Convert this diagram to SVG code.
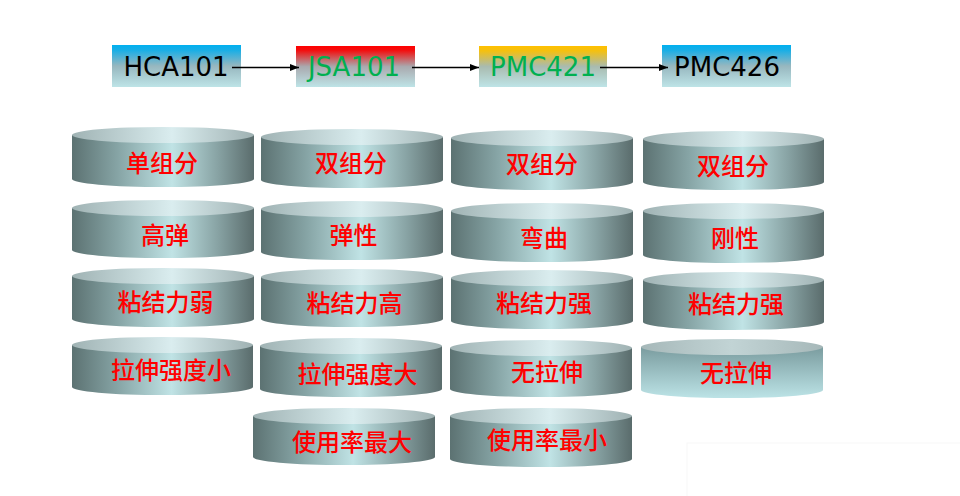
<svg xmlns="http://www.w3.org/2000/svg" width="960" height="496" viewBox="0 0 960 496">
<style>
.lbl{font-family:"DejaVu Sans","Liberation Sans",sans-serif;font-size:26px;text-anchor:middle}
.cy{font-family:"Noto Sans CJK SC","Noto Sans",sans-serif;font-size:24px;fill:#FF0000;text-anchor:middle;font-weight:500}
.body{fill:url(#side)}
.top{fill:url(#cap)}
.conn{stroke:#000;stroke-width:1.3;fill:none;marker-end:url(#arr)}
</style>
<defs>
<linearGradient id="gBlue" x1="0" y1="0" x2="0" y2="1">
<stop offset="0" stop-color="#00B0F0"/><stop offset="0.12" stop-color="#18AEE6"/><stop offset="0.5" stop-color="#97B7BF"/><stop offset="1" stop-color="#BEE4E7"/>
</linearGradient>
<linearGradient id="gRed" x1="0" y1="0" x2="0" y2="1">
<stop offset="0" stop-color="#FF0000"/><stop offset="0.1" stop-color="#F40C0C"/><stop offset="0.5" stop-color="#A9A9AE"/><stop offset="1" stop-color="#BEE4E7"/>
</linearGradient>
<linearGradient id="gGold" x1="0" y1="0" x2="0" y2="1">
<stop offset="0" stop-color="#FFC000"/><stop offset="0.12" stop-color="#F4C010"/><stop offset="0.5" stop-color="#A9BBAF"/><stop offset="1" stop-color="#BEE4E7"/>
</linearGradient>
<linearGradient id="side" x1="0" y1="0" x2="1" y2="0">
<stop offset="0" stop-color="#5C7272"/><stop offset="0.25" stop-color="#86A4A5"/><stop offset="0.55" stop-color="#C0E3E5"/><stop offset="0.8" stop-color="#88A3A4"/><stop offset="1" stop-color="#5A6C6C"/>
</linearGradient>
<linearGradient id="cap" x1="0" y1="0" x2="1" y2="0">
<stop offset="0" stop-color="#A0B3B4"/><stop offset="0.55" stop-color="#DAEDEF"/><stop offset="1" stop-color="#9FB1B2"/>
</linearGradient>
<linearGradient id="sideV" x1="0" y1="0" x2="0" y2="1">
<stop offset="0" stop-color="#7A9C9F"/><stop offset="1" stop-color="#BCE3E6"/>
</linearGradient>
<linearGradient id="capV" x1="0" y1="0" x2="1" y2="0">
<stop offset="0" stop-color="#A6B8B9"/><stop offset="0.5" stop-color="#C2D4D5"/><stop offset="1" stop-color="#A6B8B9"/>
</linearGradient>
<marker id="arr" markerWidth="10" markerHeight="8" refX="9" refY="4" orient="auto" markerUnits="userSpaceOnUse">
<path d="M0,0.5 L9,4 L0,7.5 Z" fill="#000"/>
</marker>
</defs>
<rect width="960" height="496" fill="#FFFFFF"/>
<rect x="687" y="443" width="280" height="60" fill="none" stroke="#F8F8F8" stroke-width="1"/>

<g id="hca101"><rect x="112" y="45" width="129" height="42" fill="url(#gBlue)"/><text class="lbl" x="176" y="75.5" fill="#000">HCA101</text></g>
<g id="jsa101"><rect x="296" y="46" width="119" height="41" fill="url(#gRed)"/><text class="lbl" x="354" y="75.5" fill="#00B050">JSA101</text></g>
<g id="pmc421"><rect x="479" y="46" width="128" height="41" fill="url(#gGold)"/><text class="lbl" x="543" y="75.5" fill="#00B050">PMC421</text></g>
<g id="pmc426"><rect x="662" y="45" width="129" height="42" fill="url(#gBlue)"/><text class="lbl" x="727" y="75.5" fill="#000">PMC426</text></g>

<g id="connectors">
<line class="conn" x1="232" y1="67.5" x2="299" y2="67.5"/>
<line class="conn" x1="412" y1="67.5" x2="479" y2="67.5"/>
<line class="conn" x1="600" y1="67.5" x2="668" y2="67.5"/>
</g>

<g id="c1r1"><path class="body" d="M72,135 L72,179 A91,8 0 0 0 254,179 L254,135 Z"/><ellipse class="top" cx="163" cy="135" rx="91" ry="8"/><text class="cy" x="162" y="172">单组分</text></g>
<g id="c1r2"><path class="body" d="M72,208 L72,250 A91,8 0 0 0 254,250 L254,208 Z"/><ellipse class="top" cx="163" cy="208" rx="91" ry="8"/><text class="cy" x="165" y="244">高弹</text></g>
<g id="c1r3"><path class="body" d="M72,276 L72,319 A91,8 0 0 0 254,319 L254,276 Z"/><ellipse class="top" cx="163" cy="276" rx="91" ry="8"/><text class="cy" x="165.5" y="311">粘结力弱</text></g>
<g id="c1r4"><path class="body" d="M72,345 L72,387 A90.5,8 0 0 0 253,387 L253,345 Z"/><ellipse class="top" cx="162.5" cy="345" rx="90.5" ry="8"/><text class="cy" x="171" y="379">拉伸强度小</text></g>

<g id="c2r1"><path class="body" d="M261,137 L261,180 A91,8 0 0 0 443,180 L443,137 Z"/><ellipse class="top" cx="352" cy="137" rx="91" ry="8"/><text class="cy" x="351" y="172">双组分</text></g>
<g id="c2r2"><path class="body" d="M261,209 L261,252 A91,8 0 0 0 443,252 L443,209 Z"/><ellipse class="top" cx="352" cy="209" rx="91" ry="8"/><text class="cy" x="353.5" y="244">弹性</text></g>
<g id="c2r3"><path class="body" d="M261,277 L261,319 A91,8 0 0 0 443,319 L443,277 Z"/><ellipse class="top" cx="352" cy="277" rx="91" ry="8"/><text class="cy" x="354.5" y="312">粘结力高</text></g>
<g id="c2r4"><path class="body" d="M260,346 L260,389 A91,8 0 0 0 442,389 L442,346 Z"/><ellipse class="top" cx="351" cy="346" rx="91" ry="8"/><text class="cy" x="357.5" y="383">拉伸强度大</text></g>
<g id="c2r5"><path class="body" d="M253,416 L253,457 A91,8 0 0 0 435,457 L435,416 Z"/><ellipse class="top" cx="344" cy="416" rx="91" ry="8"/><text class="cy" x="352" y="451">使用率最大</text></g>

<g id="c3r1"><path class="body" d="M451,138 L451,182 A91,8 0 0 0 633,182 L633,138 Z"/><ellipse class="top" cx="542" cy="138" rx="91" ry="8"/><text class="cy" x="542" y="173">双组分</text></g>
<g id="c3r2"><path class="body" d="M451,211 L451,254 A91,8 0 0 0 633,254 L633,211 Z"/><ellipse class="top" cx="542" cy="211" rx="91" ry="8"/><text class="cy" x="544" y="246.5">弯曲</text></g>
<g id="c3r3"><path class="body" d="M451,278 L451,321 A91,8 0 0 0 633,321 L633,278 Z"/><ellipse class="top" cx="542" cy="278" rx="91" ry="8"/><text class="cy" x="544" y="312">粘结力强</text></g>
<g id="c3r4"><path class="body" d="M450,348 L450,389 A91,8 0 0 0 632,389 L632,348 Z"/><ellipse class="top" cx="541" cy="348" rx="91" ry="8"/><text class="cy" x="547" y="381">无拉伸</text></g>
<g id="c3r5"><path class="body" d="M450,416 L450,459 A91,8 0 0 0 632,459 L632,416 Z"/><ellipse class="top" cx="541" cy="416" rx="91" ry="8"/><text class="cy" x="547" y="449">使用率最小</text></g>

<g id="c4r1"><path class="body" d="M643,139 L643,182 A90.5,8 0 0 0 824,182 L824,139 Z"/><ellipse class="top" cx="733.5" cy="139" rx="90.5" ry="8"/><text class="cy" x="733" y="174.5">双组分</text></g>
<g id="c4r2"><path class="body" d="M643,211 L643,255 A90.5,8 0 0 0 824,255 L824,211 Z"/><ellipse class="top" cx="733.5" cy="211" rx="90.5" ry="8"/><text class="cy" x="735" y="246.5">刚性</text></g>
<g id="c4r3"><path class="body" d="M643,280 L643,322 A90.5,8 0 0 0 824,322 L824,280 Z"/><ellipse class="top" cx="733.5" cy="280" rx="90.5" ry="8"/><text class="cy" x="736" y="313">粘结力强</text></g>
<g id="c4r4"><path d="M641,347 L641,390 A91,8 0 0 0 823,390 L823,347 Z" fill="url(#sideV)"/><ellipse cx="732" cy="347" rx="91" ry="8" fill="url(#capV)"/><text class="cy" x="736" y="382">无拉伸</text></g>
</svg>
